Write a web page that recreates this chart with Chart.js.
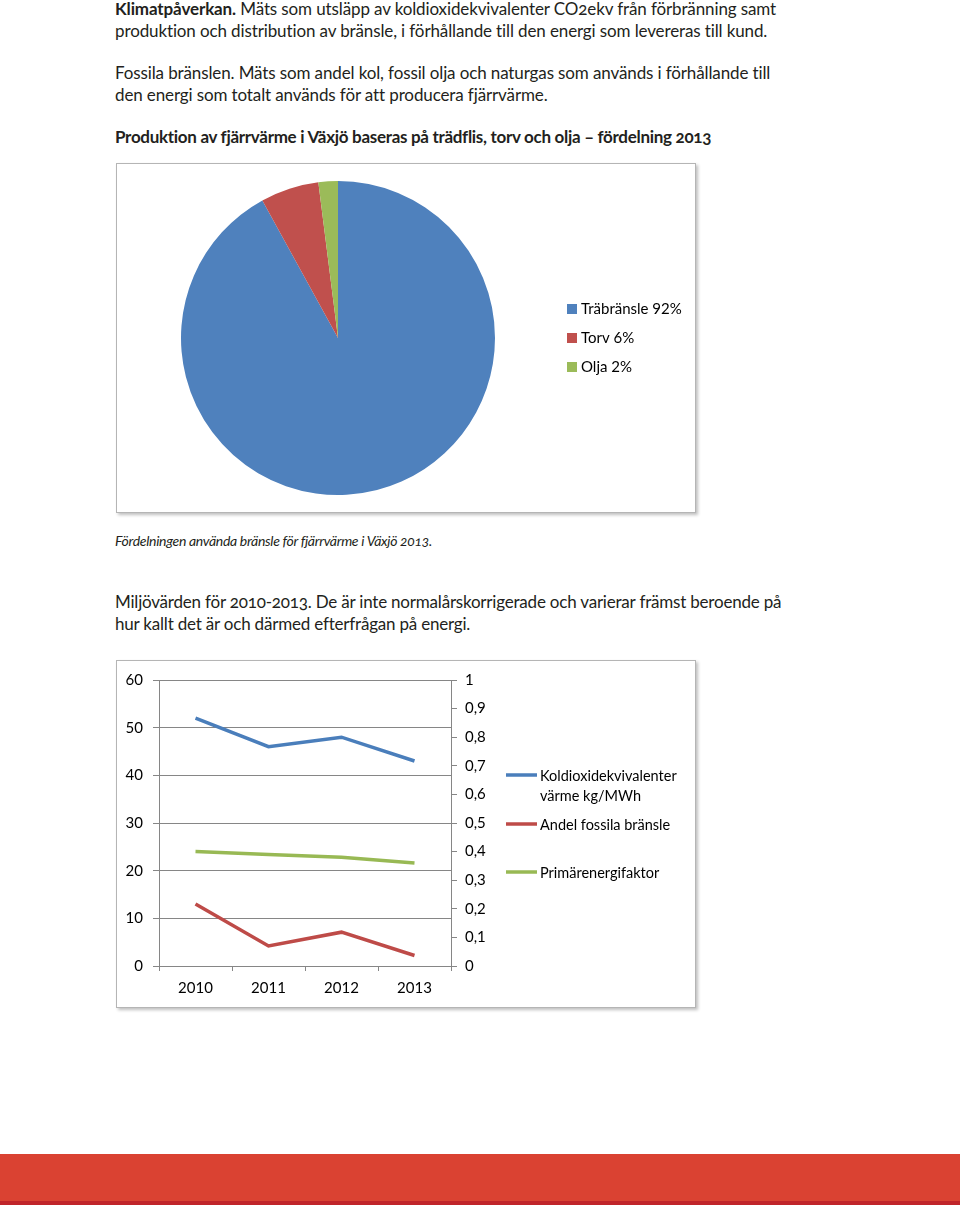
<!DOCTYPE html>
<html>
<head>
<meta charset="utf-8">
<script src="https://cdn.jsdelivr.net/npm/chart.js@4"></script>
<style>
  html, body { margin: 0; padding: 0; background: #fff; }
  #page { position: relative; width: 960px; height: 1205px; overflow: hidden; font-family: Lato, sans-serif; color: #231f20; }
  .txt { position: absolute; left: 115px; font-size: 17px; line-height: 21.5px; white-space: nowrap; letter-spacing: -0.12px; font-variant-ligatures: none; font-feature-settings: "onum" 1, "liga" 0; }
  .box { position: absolute; left: 116px; width: 578px; background: #fff; border: 1px solid #b5b5b5; box-shadow: 2px 2px 3px rgba(0,0,0,0.25); }
  .box canvas { position: absolute; left: 0; top: 0; }
  #bar { position: absolute; left: 0; top: 1154px; width: 960px; height: 51px; background: #da4232; border-bottom: 4px solid #c0252a; box-sizing: border-box; }
</style>
</head>
<body>
<div id="page">
  <div class="txt" style="top:-2px"><b>Klimatpåverkan.</b> Mäts som utsläpp av koldioxidekvivalenter CO2ekv från förbränning samt<br>produktion och distribution av bränsle, i förhållande till den energi som levereras till kund.</div>
  <div class="txt" style="top:62px">Fossila bränslen. Mäts som andel kol, fossil olja och naturgas som används i förhållande till<br>den energi som totalt används för att producera fjärrvärme.</div>
  <div class="txt" style="top:126px; font-weight:bold; letter-spacing:-0.3px">Produktion av fjärrvärme i Växjö baseras på trädflis, torv och olja – fördelning 2013</div>

  <div class="box" style="top:163px; height:348px"><canvas id="pieChart"></canvas></div>

  <div class="txt" style="top:530px; font-size:14px; font-style:italic; letter-spacing:-0.3px">Fördelningen använda bränsle för fjärrvärme i Växjö 2013.</div>
  <div class="txt" style="top:591px; letter-spacing:-0.2px">Miljövärden för 2010-2013. De är inte normalårskorrigerade och varierar främst beroende på<br>hur kallt det är och därmed efterfrågan på energi.</div>

  <div class="box" style="top:660px; height:346px"><canvas id="lineChart"></canvas></div>

  <div id="bar"></div>
</div>
<script>
// Pie data
var fuelLabels = ['Träbränsle 92%', 'Torv 6%', 'Olja 2%'];
var fuelShares = [92, 6, 2];
var fuelColors = ['#4f81bd', '#c0504d', '#9bbb59'];

// Line data
var years = ['2010', '2011', '2012', '2013'];
var co2Values = [52, 46, 48, 43];          // kg/MWh, left axis
var fossilValues = [13, 4.2, 7.1, 2.2];    // left axis
var primaryValues = [0.40, 0.39, 0.38, 0.36]; // right axis
var lineLabels = [['Koldioxidekvivalenter', 'värme kg/MWh'], ['Andel fossila bränsle'], ['Primärenergifaktor']];
var lineColors = ['#4a7ebb', '#be4b48', '#98b954'];

var chartFont = 'Lato, sans-serif';
Chart.defaults.font.family = chartFont;
Chart.defaults.color = '#000';
Chart.defaults.animation = false;

function sizeCanvas(el, w, h) {
    el.style.width = w + 'px';
    el.style.height = h + 'px';
}

// legend for pie, drawn beside the chart area
var pieLegend = {
    id: 'pieLegend',
    afterDraw: function(chart) {
        var ctx = chart.ctx;
        var ds = chart.data.datasets[0];
        ctx.save();
        ctx.font = '15px ' + chartFont;
        ctx.textBaseline = 'middle';
        chart.data.labels.forEach(function(lbl, i) {
            var y = 145 + i * 29;
            ctx.fillStyle = ds.backgroundColor[i];
            ctx.fillRect(450, y - 5, 10, 10);
            ctx.fillStyle = '#000';
            ctx.fillText(lbl, 464, y + 0);
        });
        ctx.restore();
    }
};

var pieCtx = document.getElementById('pieChart');
sizeCanvas(pieCtx, 578, 348);
new Chart(pieCtx, {
    type: 'pie',
    data: {
        labels: fuelLabels,
        datasets: [{
            data: fuelShares,
            backgroundColor: fuelColors,
            borderWidth: 0
        }]
    },
    options: {
        responsive: false,
        layout: { padding: { left: 64, right: 200, top: 17, bottom: 17 } },
        plugins: { legend: { display: false }, tooltip: { enabled: false } }
    },
    plugins: [pieLegend]
});

// legend for the line chart
var lineLegend = {
    id: 'lineLegend',
    afterDraw: function(chart) {
        var ctx = chart.ctx;
        var rows = [114, 163, 211];
        ctx.save();
        ctx.font = '14.5px ' + chartFont;
        ctx.textBaseline = 'middle';
        chart.data.datasets.forEach(function(ds, i) {
            var y = rows[i];
            ctx.strokeStyle = ds.borderColor;
            ctx.lineWidth = 3.5;
            ctx.beginPath();
            ctx.moveTo(389, y);
            ctx.lineTo(420, y);
            ctx.stroke();
            ctx.fillStyle = '#000';
            lineLabels[i].forEach(function(t, j) {
                ctx.fillText(t, 423, y + 1 + j * 20);
            });
        });
        ctx.restore();
    }
};

var lineCtx = document.getElementById('lineChart');
sizeCanvas(lineCtx, 578, 346);
new Chart(lineCtx, {
    type: 'line',
    data: {
        labels: years,
        datasets: [
            { data: co2Values, borderColor: lineColors[0], yAxisID: 'y' },
            { data: fossilValues, borderColor: lineColors[1], yAxisID: 'y' },
            { data: primaryValues, borderColor: lineColors[2], yAxisID: 'y1' }
        ]
    },
    options: {
        responsive: false,
        elements: {
            line: { borderWidth: 3.5, tension: 0 },
            point: { radius: 0 }
        },
        layout: { padding: { left: 0, right: 194, top: 14, bottom: 8 } },
        plugins: { legend: { display: false }, tooltip: { enabled: false } },
        scales: {
            x: {
                offset: true,
                grid: { offset: true, drawOnChartArea: false, color: '#868686', tickLength: 5 },
                border: { color: '#868686' },
                ticks: { font: { size: 15 }, padding: 8, maxRotation: 0 },
                afterFit: function(s) { s.height = 33; }
            },
            y: {
                position: 'left',
                min: 0, max: 60,
                ticks: { stepSize: 10, font: { size: 15 }, padding: 10 },
                grid: { color: '#868686', tickLength: 6 },
                border: { color: '#868686' },
                afterFit: function(s) { s.width = 42; }
            },
            y1: {
                position: 'right',
                min: 0, max: 1,
                ticks: {
                    stepSize: 0.1,
                    font: { size: 15 },
                    padding: 8,
                    callback: function(v) { return (Math.round(v * 10) / 10).toString().replace('.', ','); }
                },
                grid: { drawOnChartArea: false, color: '#868686', tickLength: 6 },
                border: { color: '#868686' },
                afterFit: function(s) { s.width = 50; }
            }
        }
    },
    plugins: [lineLegend]
});
</script>
</body>
</html>
